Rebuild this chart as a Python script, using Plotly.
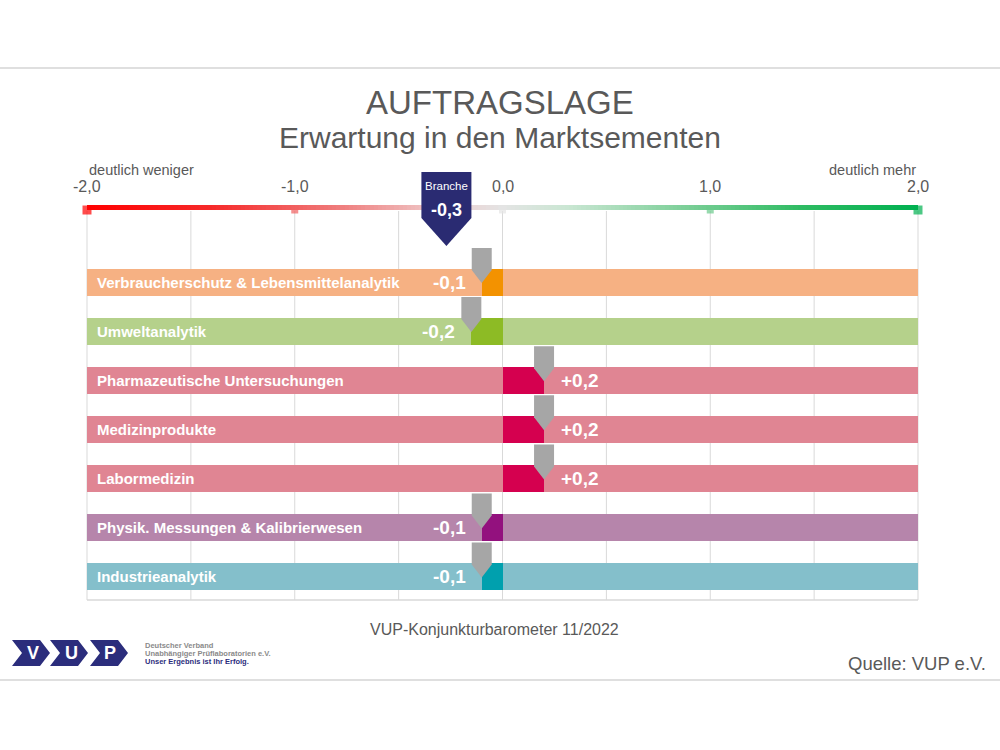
import plotly.graph_objects as go
from plotly.colors import sample_colorscale
import numpy as np

# ---------------- data ----------------
categories = [
    "Verbraucherschutz & Lebensmittelanalytik",
    "Umweltanalytik",
    "Pharmazeutische Untersuchungen",
    "Medizinprodukte",
    "Labormedizin",
    "Physik. Messungen & Kalibrierwesen",
    "Industrieanalytik",
]
values = [-0.10, -0.15, 0.20, 0.20, 0.20, -0.10, -0.10]
value_labels = ["-0,1", "-0,2", "+0,2", "+0,2", "+0,2", "-0,1", "-0,1"]
band_colors = ["#f6b183", "#b5d18b", "#e08593", "#e08593", "#e08593", "#b685ab", "#84bfcb"]
value_colors = ["#f39200", "#8dbb25", "#d5004f", "#d5004f", "#d5004f", "#93117e", "#00a0ae"]
branche_value = -0.27
branche_label = "-0,3"
tick_values = [-2.0, -1.0, 0.0, 1.0, 2.0]
tick_labels = ["-2,0", "-1,0", "0,0", "1,0", "2,0"]
scale_min, scale_max = -2.0, 2.0

# ---------------- geometry (pixel scale helpers) ----------------
W, H = 1000, 750
PX_LEFT, PX_RIGHT = 87, 918           # pixel position of -2 and +2
PXU = (PX_RIGHT - PX_LEFT) / (scale_max - scale_min)   # px per x unit
ROW0_PX, ROW_PX = 282, 49.1           # pixel centre of row 0, row spacing
X0 = scale_min - PX_LEFT / PXU
X1 = scale_max + (W - PX_RIGHT) / PXU
Y_BOTTOM = (H - ROW0_PX) / ROW_PX
Y_TOP = -ROW0_PX / ROW_PX

def dx(px):
    return px / PXU

def dy(px):
    return px / ROW_PX

def ypix(py):  # page pixel -> row units
    return (py - ROW0_PX) / ROW_PX

def pxp(x):
    return x / W

def pyp(y):
    return 1 - y / H

FONT = "Liberation Sans, Arial, sans-serif"
TXT = "#595959"
rows = list(range(len(categories)))

fig = go.Figure()

# background bands
fig.add_trace(go.Bar(
    y=rows, x=[scale_max - scale_min] * len(rows), base=scale_min,
    orientation="h", width=dy(27), marker=dict(color=band_colors, line=dict(width=0)),
    hoverinfo="skip", showlegend=False))
# value segments
fig.add_trace(go.Bar(
    y=rows, x=values, base=0, orientation="h", width=dy(27),
    marker=dict(color=value_colors, line=dict(width=0)),
    hoverinfo="skip", showlegend=False))

# gradient scale bar
cscale = [[0.0, "#ff0000"], [0.15, "#f62a2a"], [0.3, "#ef7a7a"], [0.42, "#efc9c9"],
          [0.5, "#e4e4e4"], [0.58, "#c9e6d2"], [0.72, "#7ccf98"], [0.86, "#2ebb62"],
          [1.0, "#00b050"]]
N = 200
seg = (scale_max - scale_min) / N
bases = [scale_min + i * seg for i in range(N)]
cols = sample_colorscale(cscale, [(b + seg / 2 - scale_min) / (scale_max - scale_min) for b in bases])
fig.add_trace(go.Bar(
    y=[ypix(207.5)] * N, x=[seg * 1.05] * N, base=bases, orientation="h",
    width=dy(5), marker=dict(color=cols, line=dict(width=0)),
    hoverinfo="skip", showlegend=False))
tick_cols = sample_colorscale(cscale, [(t - scale_min) / (scale_max - scale_min) for t in tick_values])
sizes = [9 if t in (scale_min, scale_max) else 7 for t in tick_values]
fig.add_trace(go.Scatter(
    x=tick_values, y=[ypix(210)] * len(tick_values), mode="markers",
    marker=dict(symbol="square", size=sizes, color=tick_cols, line=dict(width=0)),
    hoverinfo="skip", showlegend=False))

shapes = []
# vertical grid lines
for g in np.arange(scale_min, scale_max + 0.001, 0.5):
    shapes.append(dict(type="line", xref="x", yref="y", x0=g, x1=g,
                       y0=ypix(211), y1=ypix(600), layer="below",
                       line=dict(color="#d9d9d9", width=1)))
shapes.append(dict(type="line", xref="x", yref="y", x0=scale_min, x1=scale_max,
                   y0=ypix(600), y1=ypix(600), layer="below",
                   line=dict(color="#d9d9d9", width=1.5)))

# grey pointer markers
for r, v in zip(rows, values):
    hw = dx(10)
    path = (f"M {v-hw},{r-dy(34)} L {v+hw},{r-dy(34)} L {v+hw},{r-dy(12)} "
            f"L {v},{r+dy(1)} L {v-hw},{r-dy(12)} Z")
    shapes.append(dict(type="path", xref="x", yref="y", path=path,
                       fillcolor="#a6a6a6", line=dict(width=0), layer="above"))

# Branche marker
bw = dx(25)
bv = branche_value
path = (f"M {bv-bw},{ypix(172)} L {bv+bw},{ypix(172)} L {bv+bw},{ypix(218)} "
        f"L {bv},{ypix(246)} L {bv-bw},{ypix(218)} Z")
shapes.append(dict(type="path", xref="x", yref="y", path=path,
                   fillcolor="#2a2b72", line=dict(width=0), layer="above"))

# page separator lines
for py in (68, 680):
    shapes.append(dict(type="line", xref="paper", yref="paper", x0=0, x1=1,
                       y0=pyp(py), y1=pyp(py), line=dict(color="#d4d4d4", width=1.5)))

# VUP logo chevrons
NAVY = "#2b2d7c"
for x0 in (12, 50, 90):
    x1 = x0 + 38
    d = 10
    t, b, m = 640, 666, 653
    pts = [(x0, t), (x1 - d, t), (x1, m), (x1 - d, b), (x0, b), (x0 + d, m)]
    path = "M " + " L ".join(f"{pxp(a)},{pyp(c)}" for a, c in pts) + " Z"
    shapes.append(dict(type="path", xref="paper", yref="paper", path=path,
                       fillcolor=NAVY, line=dict(width=0)))

ann = []
# category labels
for r, c in zip(rows, categories):
    ann.append(dict(x=scale_min + dx(8), y=r, xref="x", yref="y", text=f"<b>{c}</b>",
                    showarrow=False, xanchor="left", yanchor="middle",
                    font=dict(family=FONT, size=15, color="white")))
# value labels
for r, v, lab in zip(rows, values, value_labels):
    if v < 0:
        ann.append(dict(x=v - dx(14), y=r, xref="x", yref="y", text=f"<b>{lab}</b>",
                        showarrow=False, xanchor="right", yanchor="middle",
                        font=dict(family=FONT, size=19, color="white")))
    else:
        ann.append(dict(x=v + dx(15), y=r, xref="x", yref="y", text=f"<b>{lab}</b>",
                        showarrow=False, xanchor="left", yanchor="middle",
                        font=dict(family=FONT, size=19, color="white")))
# tick labels
for t, lab in zip(tick_values, tick_labels):
    ann.append(dict(x=t, y=pyp(187), xref="x", yref="paper", text=lab, showarrow=False,
                    xanchor="center", yanchor="middle",
                    font=dict(family=FONT, size=16, color=TXT)))
ann.append(dict(x=scale_min, y=pyp(170), xref="x", yref="paper", text="deutlich weniger",
                showarrow=False, xanchor="left", yanchor="middle",
                font=dict(family=FONT, size=14.5, color=TXT)))
ann.append(dict(x=scale_max, y=pyp(170), xref="x", yref="paper", text="deutlich mehr",
                showarrow=False, xanchor="right", yanchor="middle",
                font=dict(family=FONT, size=14.5, color=TXT)))
# Branche texts
ann.append(dict(x=bv, y=pyp(186), xref="x", yref="paper", text="Branche", showarrow=False,
                xanchor="center", yanchor="middle", font=dict(family=FONT, size=11.5, color="white")))
ann.append(dict(x=bv, y=pyp(210), xref="x", yref="paper", text=f"<b>{branche_label}</b>",
                showarrow=False, xanchor="center", yanchor="middle",
                font=dict(family=FONT, size=18, color="white")))
# titles
ann.append(dict(x=0.5, y=pyp(102), xref="paper", yref="paper", text="AUFTRAGSLAGE",
                showarrow=False, xanchor="center", yanchor="middle",
                font=dict(family=FONT, size=33, color=TXT)))
ann.append(dict(x=0.5, y=pyp(138), xref="paper", yref="paper",
                text="Erwartung in den Marktsementen", showarrow=False,
                xanchor="center", yanchor="middle", font=dict(family=FONT, size=30, color=TXT)))
ann.append(dict(x=pxp(494), y=pyp(629), xref="paper", yref="paper",
                text="VUP-Konjunkturbarometer 11/2022", showarrow=False,
                xanchor="center", yanchor="middle", font=dict(family=FONT, size=16, color=TXT)))
ann.append(dict(x=pxp(988), y=pyp(663), xref="paper", yref="paper",
                text="Quelle: VUP e.V.", showarrow=False,
                xanchor="right", yanchor="middle", font=dict(family=FONT, size=18.5, color=TXT)))
# logo letters and text
for cx, letter in zip((33, 71, 110), ("V", "U", "P")):
    ann.append(dict(x=pxp(cx), y=pyp(653), xref="paper", yref="paper", text=f"<b>{letter}</b>",
                    showarrow=False, xanchor="center", yanchor="middle",
                    font=dict(family=FONT, size=18, color="white")))
for py, txt, col in ((645, "Deutscher Verband", "#8a8a8a"),
                     (653, "Unabhängiger Prüflaboratorien e.V.", "#8a8a8a"),
                     (661, "Unser Ergebnis ist Ihr Erfolg.", NAVY)):
    ann.append(dict(x=pxp(143), y=pyp(py), xref="paper", yref="paper",
                    text=f"<b>{txt}</b>", showarrow=False,
                    xanchor="left", yanchor="middle",
                    font=dict(family=FONT, size=7.5, color=col)))

fig.update_layout(
    width=W, height=H, margin=dict(l=0, r=0, t=0, b=0),
    paper_bgcolor="white", plot_bgcolor="white",
    barmode="overlay", bargap=0, showlegend=False,
    xaxis=dict(range=[X0, X1], visible=False, fixedrange=True),
    yaxis=dict(range=[Y_BOTTOM, Y_TOP], visible=False, fixedrange=True),
    shapes=shapes, annotations=ann,
)
fig.write_html("out.html")
